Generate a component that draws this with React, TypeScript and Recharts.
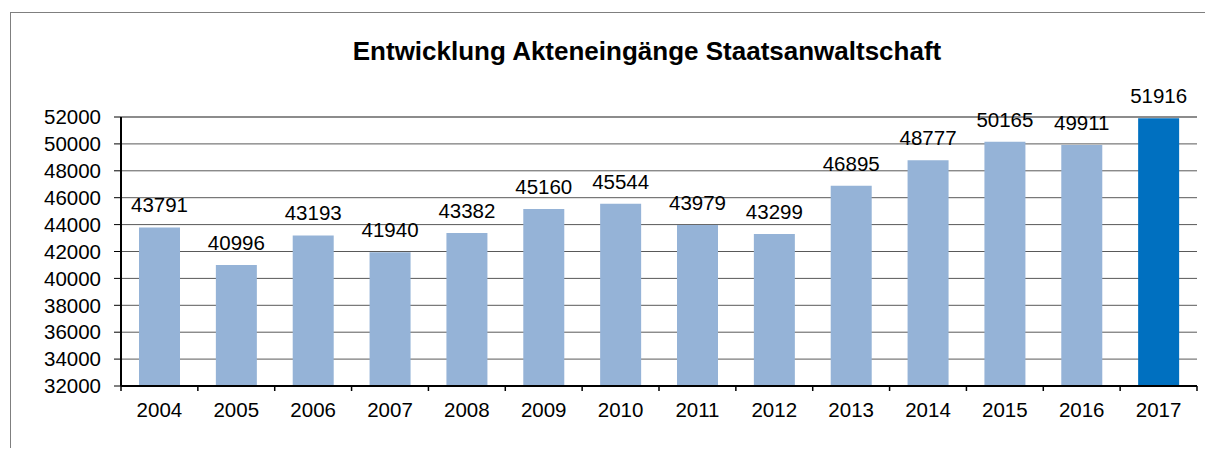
import React from 'react';
import {
  BarChart, Bar, XAxis, YAxis, CartesianGrid, Cell, LabelList, ReferenceLine
} from 'recharts';

const YEARS = ['2004', '2005', '2006', '2007', '2008', '2009', '2010', '2011', '2012', '2013', '2014', '2015', '2016', '2017'];
const CASES = [43791, 40996, 43193, 41940, 43382, 45160, 45544, 43979, 43299, 46895, 48777, 50165, 49911, 51916];
const Y_TICKS = [32000, 34000, 36000, 38000, 40000, 42000, 44000, 46000, 48000, 50000, 52000];
const HIGHLIGHT_YEAR = '2017';

const TITLE = 'Entwicklung Akteneingänge Staatsanwaltschaft';
const FONT = '"Liberation Sans", Arial, sans-serif';
const FS = 20.5;

const WIDTH = 1213;
const HEIGHT = 456;
const MARGIN = { top: 117, right: 16, bottom: 40, left: 61 };
const Y_AXIS_W = 60;
const BAND = (WIDTH - MARGIN.left - Y_AXIS_W - MARGIN.right) / YEARS.length;

const data = YEARS.map((year, i) => ({ year, cases: CASES[i] }));

// tick marks sit between the categories, labels in the middle
const XTick = (props: any) => {
  const { x, y, payload, index } = props;
  const half = BAND / 2;
  return (
    <g>
      <line x1={x - half} x2={x - half} y1={y} y2={y + 5} stroke="#000" strokeWidth={1.5} />
      {index === YEARS.length - 1 && (
        <line x1={x + half} x2={x + half} y1={y} y2={y + 5} stroke="#000" strokeWidth={1.5} />
      )}
      <text x={x} y={y + 31} textAnchor="middle" fontSize={FS} fill="#000" fontFamily={FONT}>
        {payload.value}
      </text>
    </g>
  );
};

export default function App() {
  return (
    <div style={{ position: 'relative', margin: -8, width: WIDTH, height: HEIGHT, overflow: 'hidden', background: '#fff', fontFamily: FONT }}>
      <div style={{ position: 'absolute', left: 10, top: 12, width: 1240, height: 520, border: '1px solid #7f7f7f' }} />
      <div style={{ position: 'absolute', left: 0, top: 36, width: 1294, textAlign: 'center', fontSize: 26, fontWeight: 'bold', color: '#000' }}>
        {TITLE}
      </div>
      <div style={{ position: 'absolute', left: 0, top: 0 }}>
        <BarChart width={WIDTH} height={HEIGHT} data={data} margin={MARGIN}>
          <CartesianGrid vertical={false} stroke="#595959" yAxisId="left" />
          <XAxis
            dataKey="year"
            height={30}
            axisLine={{ stroke: '#000', strokeWidth: 2 }}
            tickLine={false}
            tickSize={0}
            tickMargin={0}
            interval={0}
            tick={<XTick />}
          />
          <YAxis
            yAxisId="left"
            width={Y_AXIS_W}
            domain={[32000, 52000]}
            ticks={Y_TICKS}
            interval={0}
            allowDataOverflow
            axisLine={{ stroke: '#000', strokeWidth: 2 }}
            tickLine={{ stroke: '#000' }}
            tickSize={7}
            tickMargin={13}
            tick={{ fontSize: FS, fill: '#000', fontFamily: FONT }}
          />
          <YAxis
            yAxisId="right"
            orientation="right"
            width={0}
            domain={[32000, 52000]}
            axisLine={{ stroke: '#8c8c8c', strokeWidth: 2 }}
            tick={false}
            tickLine={false}
          />
          <ReferenceLine yAxisId="left" y={52000} stroke="#8c8c8c" strokeWidth={2} />
          <Bar yAxisId="left" dataKey="cases" barSize={41} isAnimationActive={false}>
            {data.map((d) => (
              <Cell key={d.year} fill={d.year === HIGHLIGHT_YEAR ? '#0070C0' : '#95B3D7'} />
            ))}
            <LabelList dataKey="cases" position="top" offset={15} fontSize={FS} fill="#000" fontFamily={FONT} />
          </Bar>
        </BarChart>
      </div>
    </div>
  );
}
